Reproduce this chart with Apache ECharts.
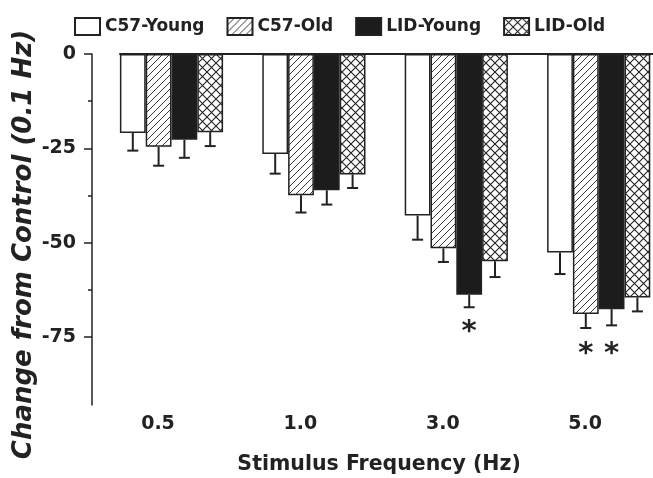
<!DOCTYPE html>
<html>
<head>
<meta charset="utf-8">
<script src="https://cdn.jsdelivr.net/npm/echarts@6/dist/echarts.min.js"></script>
<style>html,body{margin:0;padding:0;background:#fff}#c{width:653px;height:478px}</style>
</head>
<body>
<div id="c"></div>
<script>
// ---- data ----
const categories = ['0.5', '1.0', '3.0', '5.0'];
const seriesNames = ['C57-Young', 'C57-Old', 'LID-Young', 'LID-Old'];
const c57Young = [-20.9, -26.5, -42.8, -52.6];
const c57Old = [-24.6, -37.4, -51.5, -68.9];
const lidYoung = [-22.7, -36.1, -63.8, -67.6];
const lidOld = [-20.7, -31.9, -54.9, -64.5];
const c57YoungErr = [4.7, 5.2, 6.4, 5.7];
const c57OldErr = [5.0, 4.6, 3.6, 3.7];
const lidYoungErr = [4.8, 3.8, 3.3, 4.3];
const lidOldErr = [3.7, 3.6, 4.2, 3.7];
const yTicks = [0, -25, -50, -75];
const yMinorTicks = [-12.5, -37.5, -62.5];
// significance marks: category index, series index, value at which the star sits
const sigCat = [2, 3, 3];
const sigSeries = [2, 1, 2];
const sigY = [-72.2, -78.0, -78.0];

// ---- styles ----
const FONT = 'DejaVu Sans';
const INK = '#222';
const BAR_W = 25.8;

function hatchPattern() {
  const s = 7, c = document.createElement('canvas');
  c.width = s; c.height = s;
  const g = c.getContext('2d');
  g.fillStyle = '#fff'; g.fillRect(0, 0, s, s);
  g.strokeStyle = INK; g.lineWidth = 0.9;
  g.beginPath();
  g.moveTo(-1, s + 1); g.lineTo(s + 1, -1);
  g.moveTo(-1, 1); g.lineTo(1, -1);
  g.moveTo(s - 1, s + 1); g.lineTo(s + 1, s - 1);
  g.stroke();
  return { image: c, repeat: 'repeat' };
}
function crossPattern() {
  const s = 9, c = document.createElement('canvas');
  c.width = s; c.height = s;
  const g = c.getContext('2d');
  g.fillStyle = '#fff'; g.fillRect(0, 0, s, s);
  g.strokeStyle = INK; g.lineWidth = 1.1;
  g.beginPath();
  g.moveTo(0, 0); g.lineTo(s, s);
  g.moveTo(0, s); g.lineTo(s, 0);
  g.stroke();
  return { image: c, repeat: 'repeat' };
}

const values = [c57Young, c57Old, lidYoung, lidOld];
const errs = [c57YoungErr, c57OldErr, lidYoungErr, lidOldErr];
const fills = ['#fff', hatchPattern(), '#1c1c1c', crossPattern()];

const barSeries = seriesNames.map((name, i) => ({
  type: 'bar',
  name: name,
  data: values[i],
  barWidth: BAR_W,
  barGap: '0%',
  itemStyle: { color: fills[i], borderColor: INK, borderWidth: 1.5 },
  emphasis: { disabled: true },
  z: 2
}));

const errData = [];
values.forEach((arr, s) => arr.forEach((v, j) => errData.push([j, s, v, errs[s][j]])));

const errSeries = {
  type: 'custom',
  name: 'err',
  data: errData,
  encode: { x: 0, y: 2 },
  z: 1,
  renderItem: function (params, api) {
    const cat = api.value(0), s = api.value(1), m = api.value(2), e = api.value(3);
    const p0 = api.coord([cat, m]);
    const p1 = api.coord([cat, m - e]);
    const x = p0[0] + (s - 1.5) * BAR_W;
    const st = { stroke: INK, lineWidth: 2 };
    return {
      type: 'group',
      children: [
        { type: 'line', shape: { x1: x, y1: p0[1], x2: x, y2: p1[1] }, style: st },
        { type: 'line', shape: { x1: x - 5.5, y1: p1[1], x2: x + 5.5, y2: p1[1] }, style: st }
      ]
    };
  }
};

const sigData = sigCat.map((c, k) => [c, sigSeries[k], sigY[k]]);
const sigSeriesObj = {
  type: 'custom',
  name: 'sig',
  data: sigData,
  encode: { x: 0, y: 2 },
  z: 3,
  renderItem: function (params, api) {
    const p = api.coord([api.value(0), api.value(2)]);
    const x = p[0] + (api.value(1) - 1.5) * BAR_W;
    return {
      type: 'text',
      x: x, y: p[1] + 6,
      style: { text: '*', fill: INK, font: 'bold 29px "' + FONT + '"', align: 'center', verticalAlign: 'middle' }
    };
  }
};

const chart = echarts.init(document.getElementById('c'), null, { renderer: 'canvas' });
chart.setOption({
  animation: false,
  backgroundColor: '#fff',
  textStyle: { fontFamily: FONT },
  legend: {
    data: seriesNames,
    left: 69, top: 12,
    itemWidth: 25, itemHeight: 17, itemGap: 22,
    icon: 'rect',
    selectedMode: false,
    textStyle: { fontSize: 17, fontWeight: 'bold', color: INK, fontFamily: FONT }
  },
  grid: [
    { left: 100.3, width: 569.6, top: 54, bottom: 73, outerBoundsMode: 'none', containLabel: false },
    { left: 120, right: 0, top: 54, bottom: 73, outerBoundsMode: 'none', containLabel: false }
  ],
  xAxis: [
    {
      type: 'category', data: categories, gridIndex: 0, position: 'bottom',
      axisLine: { show: false, onZero: false },
      axisTick: { show: false },
      splitLine: { show: false },
      axisLabel: {
        fontSize: 19, fontWeight: 'bold', color: INK, fontFamily: FONT,
        margin: 10, padding: [0, 27, 0, 0]
      },
      name: 'Stimulus Frequency (Hz)', nameLocation: 'middle', nameGap: 49, nameMoveOverlap: false,
      nameTextStyle: { fontSize: 20.5, fontWeight: 'bold', color: INK, fontFamily: FONT, padding: [0, 12, 0, 0] }
    },
    {
      type: 'value', gridIndex: 1, min: 0, max: 1, position: 'top',
      axisLine: { show: true, onZero: false, lineStyle: { color: INK, width: 2 } },
      axisTick: { show: false }, axisLabel: { show: false }, splitLine: { show: false }
    }
  ],
  yAxis: [
    {
      type: 'value', gridIndex: 0, min: -93, max: 0, position: 'left', offset: 8.3,
      axisLine: { show: true, onZero: false, lineStyle: { color: INK, width: 1.5 } },
      axisTick: { show: true, customValues: yTicks, length: 8, lineStyle: { color: INK, width: 1.5 } },
      axisLabel: {
        customValues: yTicks, formatter: v => String(v), margin: 16,
        fontSize: 19, fontWeight: 'bold', color: INK, fontFamily: FONT
      },
      splitLine: { show: false },
      name: 'Change from Control (0.1 Hz)', nameLocation: 'middle', nameGap: 55, nameRotate: 90, nameMoveOverlap: false,
      nameTextStyle: { fontSize: 26, fontWeight: 'bold', fontStyle: 'italic', color: INK, fontFamily: FONT, padding: [0, 30, 0, 0] }
    },
    {
      type: 'value', gridIndex: 0, min: -93, max: 0, position: 'left', offset: 8.3,
      axisLine: { show: false, onZero: false },
      axisTick: { show: true, customValues: yMinorTicks, length: 4, lineStyle: { color: INK, width: 1.5 } },
      axisLabel: { show: false }, splitLine: { show: false }
    },
    {
      type: 'value', gridIndex: 1, min: -93, max: 0, show: false
    }
  ],
  series: barSeries.concat([errSeries, sigSeriesObj])
});
</script>
</body>
</html>
